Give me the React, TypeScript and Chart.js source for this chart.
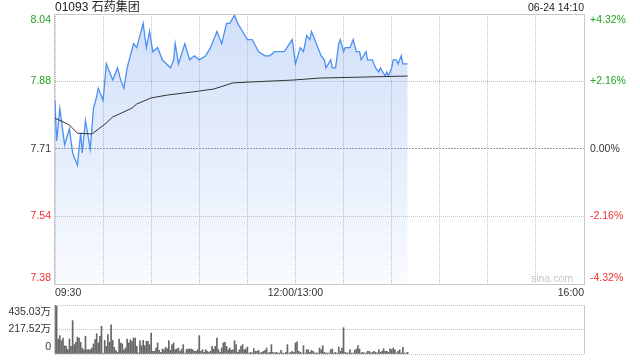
import React, { useEffect, useRef } from "react";
import { Chart, registerables } from "chart.js";

Chart.register(...registerables);

// ---------- data ----------
const titleText = "01093 石药集团";
const stampText = "06-24 14:10";
const watermarkText = "sina.com";
const prevClose = 7.71;
const rangePct = 4.32;
const totalMinutes = 330; // 09:30-12:00 + 13:00-16:00
const gridStepMinutes = 30;

const priceTickLabels = ["8.04", "7.88", "7.71", "7.54", "7.38"];
const pctTickLabels = ["+4.32%", "+2.16%", "0.00%", "-2.16%", "-4.32%"];
const pctSteps = [2, 1, 0, -1, -2];
const timeLabels = ["09:30", "12:00/13:00", "16:00"];
const timeLabelMinutes = [0, 150, 330];

const priceMinutes = [
  0, 1, 3, 6, 9, 11, 14, 16, 17, 19, 22, 24, 26, 27, 30, 32, 34, 36, 39, 41,
  43, 45, 49, 51, 55, 57, 59, 61, 64, 67, 72, 74, 75, 77, 81, 84, 87, 90, 94, 97,
  101, 104, 107, 109, 112, 114, 117, 120, 123, 127, 131, 134, 137, 140, 143, 148, 150, 153, 155, 157,
  159, 160, 162, 165, 166, 168, 169, 172, 173, 175, 176, 177, 178, 180, 181, 184, 186, 188, 190, 191,
  194, 195, 198, 200, 202, 203, 206, 207, 208, 210, 211, 213, 214, 216, 217, 220,
];
const priceValues = [
  7.83, 7.73, 7.81, 7.72, 7.76, 7.70, 7.67, 7.75, 7.70, 7.78, 7.71, 7.81, 7.84, 7.86, 7.83, 7.92, 7.90, 7.88, 7.91, 7.88,
  7.86, 7.91, 7.97, 7.96, 8.02, 7.96, 8.00, 7.95, 7.96, 7.93, 7.91, 7.93, 7.97, 7.92, 7.97, 7.93, 7.94, 7.93, 7.94, 7.96,
  8.00, 7.97, 8.02, 8.02, 8.04, 8.02, 8.00, 7.98, 7.98, 7.95, 7.94, 7.94, 7.95, 7.95, 7.95, 7.98, 7.92, 7.96, 7.95, 7.99,
  7.98, 8.00, 7.98, 7.95, 7.94, 7.93, 7.91, 7.93, 7.91, 7.91, 7.94, 7.97, 7.98, 7.95, 7.96, 7.96, 7.98, 7.95, 7.95, 7.93,
  7.95, 7.93, 7.93, 7.91, 7.90, 7.91, 7.89, 7.90, 7.89, 7.91, 7.93, 7.93, 7.92, 7.94, 7.92, 7.92,
];

const avgMinutes = [0, 5, 9, 14, 23, 28, 32, 36, 40, 48, 51, 60, 70, 90, 99, 111, 120, 148, 165, 220];
const avgValues = [
  7.786, 7.777, 7.769, 7.749, 7.747, 7.762, 7.774, 7.789, 7.796, 7.811,
  7.821, 7.836, 7.843, 7.853, 7.858, 7.873, 7.875, 7.88, 7.885, 7.89,
];

// volume per minute, in 万
const volumes = [
  435, 425, 133, 163, 118, 142, 74, 68, 38, 133,
  68, 296, 83, 104, 151, 142, 104, 53, 38, 157,
  38, 38, 38, 53, 89, 127, 180, 98, 157, 246,
  9,
  121, 68, 172, 104, 260, 121, 59, 30, 15, 133,
  98, 89, 38, 53, 133, 98, 127, 112, 142, 142,
  68, 9, 118, 74, 121, 74, 112, 112, 83, 186,
  24, 24, 53, 98, 33, 15, 44, 38, 59, 47,
  118, 33, 83, 98, 38, 44, 53, 24, 44, 83,
  9,
  38, 44, 44, 44, 38, 24, 24, 38, 163, 24,
  38, 15, 38, 24, 15, 24, 68, 44, 68, 142,
  38, 15, 53, 98, 104, 68, 38, 53,
  33, 38, 118, 83, 15, 38, 68, 83, 38,
  44, 62, 9, 15, 9, 47, 24, 24, 33, 9,
  15, 24, 33, 53, 9, 15, 83, 15, 9, 15,
  9,
  9, 33, 9, 3, 15, 83, 9, 15, 24, 15,
  98, 107, 24, 15, 9, 74, 9, 38, 38, 15,
  33, 24, 9, 9, 9, 53, 38, 74, 15, 9,
  9,
  9, 38, 44, 9, 15, 3, 62, 24, 53, 234,
  15, 9, 9, 38, 9, 9, 33, 44, 74, 44,
  9, 15, 9, 9, 24, 24, 9, 15, 24, 15,
  9,
  38, 15, 24, 47, 24, 24, 15, 47, 38, 53,
  38, 9, 24, 38, 9, 59, 9, 9, 15,
];
const volMax = 435.03;
const volTickValues = [435.03, 217.515, 0];
const volTickLabels = ["435.03万", "217.52万", "0"];

// ---------- styles ----------
const FAMILY = '"Liberation Sans", Arial, "Noto Sans CJK SC", sans-serif';
const AXIS_FONT = `10.5px ${FAMILY}`;
const UP = "#22a322";
const DOWN = "#f03030";
const TEXT = "#333333";
const GRID = "#c2c2c2";
const FRAME = "#c8c8c8";

const priceMin = prevClose * (1 - rangePct / 100);
const priceMax = prevClose * (1 + rangePct / 100);
const priceTickValues = pctSteps.map((s) => prevClose * (1 + (s * rangePct) / 200));

const labelColor = (step: number) => (step > 0 ? UP : step < 0 ? DOWN : TEXT);
const clamp = (v: number, lo: number, hi: number) => Math.max(lo, Math.min(hi, v));
const isZero = (c: any) => c.tick && Math.abs(c.tick.value - prevClose) < 1e-6;

const topPlugin = {
  id: "topText",
  afterDraw(chart: any) {
    const { ctx, chartArea: a, scales } = chart;
    ctx.save();
    ctx.strokeStyle = FRAME;
    ctx.lineWidth = 1;
    const x0 = Math.round(a.left) - 0.5;
    const x1 = Math.round(a.right) + 0.5;
    const y0 = Math.round(a.top) + 0.5;
    const y1 = Math.round(a.bottom) + 0.5;
    ctx.strokeRect(x0, y0, x1 - x0, y1 - y0);

    ctx.font = AXIS_FONT;
    ctx.textBaseline = "middle";
    priceTickValues.forEach((v, i) => {
      const y = clamp(scales.y.getPixelForValue(v), a.top + 6, a.bottom - 6);
      ctx.fillStyle = labelColor(pctSteps[i]);
      ctx.textAlign = "right";
      ctx.fillText(priceTickLabels[i], a.left - 4, y);
      ctx.textAlign = "left";
      ctx.fillText(pctTickLabels[i], a.right + 6, y);
    });
    ctx.fillStyle = TEXT;
    timeLabels.forEach((t, i) => {
      const x = scales.x.getPixelForValue(timeLabelMinutes[i]);
      ctx.textAlign = i === 0 ? "left" : i === timeLabels.length - 1 ? "right" : "center";
      ctx.fillText(t, x, a.bottom + 9);
    });
    ctx.fillStyle = "#c8c8c8";
    ctx.textAlign = "right";
    ctx.fillText(watermarkText, a.right - 11, a.bottom - 5);
    ctx.fillStyle = "#222";
    ctx.font = `12px ${FAMILY}`;
    ctx.textAlign = "left";
    ctx.fillText(titleText, a.left, 8);
    ctx.font = `10.5px ${FAMILY}`;
    ctx.textAlign = "right";
    ctx.fillText(stampText, a.right, 8);
    ctx.restore();
  },
};

const volPlugin = {
  id: "volText",
  afterDraw(chart: any) {
    const { ctx, chartArea: a, scales } = chart;
    ctx.save();
    ctx.strokeStyle = FRAME;
    ctx.lineWidth = 1;
    const xl = Math.round(a.left) - 0.5;
    const xr = Math.round(a.right) + 0.5;
    ctx.beginPath();
    ctx.moveTo(xl, a.top);
    ctx.lineTo(xl, a.bottom);
    ctx.moveTo(xr, a.top);
    ctx.lineTo(xr, a.bottom);
    ctx.stroke();
    ctx.font = AXIS_FONT;
    ctx.fillStyle = TEXT;
    ctx.textAlign = "right";
    ctx.textBaseline = "middle";
    volTickValues.forEach((v, i) => {
      const y = clamp(scales.y.getPixelForValue(v), a.top + 7, a.bottom - 7);
      ctx.fillText(volTickLabels[i], a.left - 4, y);
    });
    ctx.restore();
  },
};

export default function App() {
  const topRef = useRef<HTMLCanvasElement>(null);
  const volRef = useRef<HTMLCanvasElement>(null);

  useEffect(() => {
    const xGrid: number[] = [];
    for (let m = 0; m <= totalMinutes; m += gridStepMinutes) xGrid.push(m);

    const top = new Chart(topRef.current as HTMLCanvasElement, {
      type: "line",
      data: {
        datasets: [
          {
            label: "avg",
            data: avgMinutes.map((m, i) => ({ x: m, y: avgValues[i] })),
            borderColor: "#333333",
            borderWidth: 1,
            pointRadius: 0,
            fill: false,
            order: 0,
          },
          {
            label: "price",
            data: priceMinutes.map((m, i) => ({ x: m, y: priceValues[i] })),
            borderColor: "#4d8ff2",
            borderWidth: 1.3,
            pointRadius: 0,
            fill: "start",
            order: 1,
            backgroundColor: (c: any) => {
              const a = c.chart.chartArea;
              if (!a) return "rgba(100,150,235,0.2)";
              const g = c.chart.ctx.createLinearGradient(0, a.top, 0, a.bottom);
              g.addColorStop(0, "rgba(100,150,235,0.30)");
              g.addColorStop(1, "rgba(100,150,235,0.04)");
              return g;
            },
          },
        ],
      },
      options: {
        responsive: false,
        animation: false,
        devicePixelRatio: 1,
        events: [],
        layout: { padding: { top: 14, left: 0, right: 0, bottom: 0 } },
        plugins: { legend: { display: false }, tooltip: { enabled: false } },
        scales: {
          x: {
            type: "linear",
            min: 0,
            max: totalMinutes,
            afterBuildTicks: (s: any) => {
              s.ticks = xGrid.map((v) => ({ value: v }));
            },
            afterFit: (s: any) => {
              s.height = 16;
            },
            ticks: { display: false },
            grid: { display: true, drawOnChartArea: true, color: GRID, lineWidth: 1, drawTicks: false },
            border: { display: false, dash: [1, 1] },
          },
          y: {
            position: "left",
            min: priceMin,
            max: priceMax,
            afterBuildTicks: (s: any) => {
              s.ticks = priceTickValues.map((v) => ({ value: v }));
            },
            afterFit: (s: any) => {
              s.width = 55;
            },
            ticks: { display: false },
            grid: {
              display: true,
              drawOnChartArea: true,
              drawTicks: false,
              lineWidth: 1,
              color: (c: any) => (isZero(c) ? "#999999" : GRID),
            },
            border: {
              display: false,
              dash: (c: any) => (isZero(c) ? [2, 1] : [1, 1]),
            },
          },
          y2: {
            position: "right",
            min: -rangePct,
            max: rangePct,
            afterFit: (s: any) => {
              s.width = 56;
            },
            ticks: { display: false },
            grid: { display: false, drawTicks: false },
            border: { display: false },
          },
        },
      } as any,
      plugins: [topPlugin],
    });

    const vol = new Chart(volRef.current as HTMLCanvasElement, {
      type: "bar",
      data: {
        datasets: [
          {
            label: "volume",
            data: volumes.map((v, i) => ({ x: i, y: v })),
            backgroundColor: "#666666",
            borderWidth: 0,
            barThickness: 1,
          },
        ],
      },
      options: {
        responsive: false,
        animation: false,
        devicePixelRatio: 1,
        events: [],
        layout: { padding: { top: 5, left: 0, right: 56, bottom: 0 } },
        plugins: { legend: { display: false }, tooltip: { enabled: false } },
        scales: {
          x: {
            type: "linear",
            min: 0,
            max: totalMinutes,
            offset: false,
            afterFit: (s: any) => {
              s.height = 6;
            },
            ticks: { display: false },
            grid: { display: false, drawTicks: false },
            border: { display: false },
          },
          y: {
            position: "left",
            min: 0,
            max: volMax,
            afterBuildTicks: (s: any) => {
              s.ticks = volTickValues.map((v) => ({ value: v }));
            },
            afterFit: (s: any) => {
              s.width = 55;
            },
            ticks: { display: false },
            grid: { display: true, color: GRID, lineWidth: 1, drawTicks: false },
            border: { display: false, dash: [1, 1] },
          },
        },
      } as any,
      plugins: [volPlugin],
    });

    return () => {
      top.destroy();
      vol.destroy();
    };
  }, []);

  return (
    <div
      style={{
        position: "fixed",
        left: 0,
        top: 0,
        width: 640,
        height: 360,
        background: "#ffffff",
      }}
    >
      <canvas
        ref={topRef}
        width={640}
        height={300}
        style={{ position: "absolute", left: 0, top: 0, width: 640, height: 300 }}
      />
      <canvas
        ref={volRef}
        width={640}
        height={60}
        style={{ position: "absolute", left: 0, top: 300, width: 640, height: 60 }}
      />
    </div>
  );
}
